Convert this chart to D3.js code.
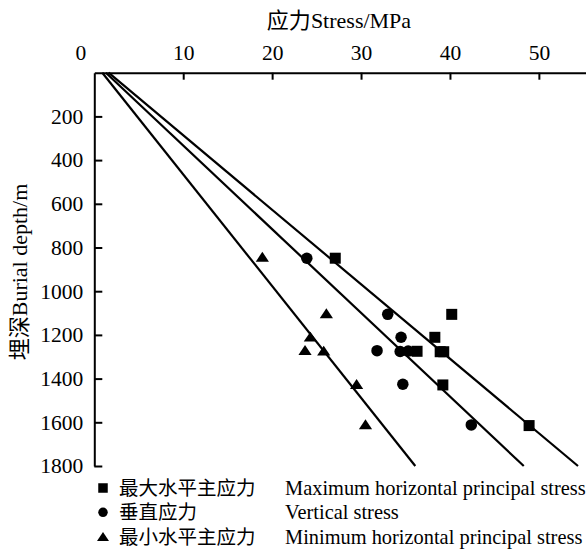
<!DOCTYPE html>
<html>
<head>
<meta charset="utf-8">
<title>Stress vs burial depth</title>
<script src="https://d3js.org/d3.v7.min.js"></script>
<style>
body{margin:0;background:#fff;}
</style>
</head>
<body>
<svg class="chart"></svg>
<script>
var width=586,height=550;
var serif='"Liberation Serif","Times New Roman",serif';
var cjk='"Noto Sans CJK SC",sans-serif';

// axis ticks
var stressTicks=[0,10,20,30,40,50];
var depthTicks=[200,400,600,800,1000,1200,1400,1600,1800];

// fitted lines (depth endpoints, stress at those depths)
var lineDepth=[0,1800];
var maxLine=[1.6,54.4];
var vertLine=[1.3,48.3];
var minLine=[0.9,36.1];

// measured points
var maxDepth=[849,1106,1211,1275,1277,1277,1429,1615];
var maxStress=[27.1,40.2,38.3,36.3,38.9,39.3,39.2,48.9];
var vertDepth=[849,1106,1211,1272,1276,1274,1426,1612];
var vertStress=[23.9,33.0,34.5,31.8,34.4,35.3,34.7,42.4];
var minDepth=[842,1101,1208,1269,1272,1425,1609];
var minStress=[18.9,26.1,24.3,23.7,25.8,29.5,30.5];

var legendCn=["最大水平主应力","垂直应力","最小水平主应力"];
var legendEn=["Maximum horizontal principal stress","Vertical stress","Minimum horizontal principal stress"];
var legendShape=["square","circle","triangle"];

var x=d3.scaleLinear().domain([0,55.3]).range([94.3,586]);
var y=d3.scaleLinear().domain([0,1800]).range([72.7,466]);

var chart=d3.select(".chart").attr("width",width).attr("height",height);

function zip(a,b){return a.map(function(d,i){return [d,b[i]];});}

// axes
var xAxis=chart.append("g").attr("transform","translate(0,"+y(0)+")")
	.call(d3.axisTop(x).tickValues(stressTicks).tickFormat(d3.format("d"))
		.tickSizeInner(-7).tickSizeOuter(0).tickPadding(13));
var yAxis=chart.append("g").attr("transform","translate("+x(0)+",0)")
	.call(d3.axisLeft(y).tickValues(depthTicks).tickFormat(d3.format("d"))
		.tickSizeInner(-8).tickSizeOuter(0).tickPadding(11));

[xAxis,yAxis].forEach(function(a){
	a.attr("font-family",null).attr("font-size",null);
	a.selectAll("text").style("font-family",serif).style("font-size","21.5px").attr("fill","#000");
});
xAxis.selectAll(".tick").filter(function(d){return d==0;}).select("line").remove();
xAxis.selectAll(".tick").filter(function(d){return d==0;}).select("text").attr("dx",-14);
chart.selectAll(".domain,.tick line").attr("stroke","#000").attr("stroke-width",2);

// mixed Chinese / Latin label
function label(g,cn,en,size){
	var t=g.append("text").style("font-size",size);
	t.append("tspan").style("font-family",cjk).text(cn);
	t.append("tspan").style("font-family",serif).text(en);
	return t;
}

label(chart,"应力","Stress/MPa","22px").attr("x",339).attr("y",28).attr("text-anchor","middle");
label(chart,"埋深","Burial depth/m","22px").attr("transform","translate(27,272) rotate(-90)").attr("text-anchor","middle");

// lines
var line=d3.line().x(function(d){return x(d[1]);}).y(function(d){return y(d[0]);});
[maxLine,vertLine,minLine].forEach(function(s){
	chart.append("path").datum(zip(lineDepth,s)).attr("d",line)
		.attr("fill","none").attr("stroke","#000").attr("stroke-width",2.2);
});

function drawShape(g,shape,cx,cy,s){
	if(shape=="square"){
		g.append("rect").attr("x",cx-s/2).attr("y",cy-s/2).attr("width",s).attr("height",s).attr("fill","#000");
	}else if(shape=="circle"){
		g.append("circle").attr("cx",cx).attr("cy",cy).attr("r",s/2).attr("fill","#000");
	}else{
		var h=s*0.9;
		g.append("path").attr("d","M"+cx+","+(cy-h/2)+"L"+(cx+s*0.6)+","+(cy+h/2)+"L"+(cx-s*0.6)+","+(cy+h/2)+"Z").attr("fill","#000");
	}
}

var pts=chart.append("g");
zip(maxDepth,maxStress).forEach(function(d){drawShape(pts,"square",x(d[1]),y(d[0]),11);});
zip(vertDepth,vertStress).forEach(function(d){drawShape(pts,"circle",x(d[1]),y(d[0]),11.5);});
zip(minDepth,minStress).forEach(function(d){drawShape(pts,"triangle",x(d[1]),y(d[0]),11);});

// legend
var leg=chart.append("g");
legendCn.forEach(function(t,i){
	var ly=488+i*24.3;
	drawShape(leg,legendShape[i],103,ly,i==2?10:9.5);
	leg.append("text").attr("x",119).attr("y",ly+7).style("font-family",cjk).style("font-size","19.5px").text(t);
	leg.append("text").attr("x",285).attr("y",ly+7).style("font-family",serif).style("font-size","20.4px").text(legendEn[i]);
});
</script>
</body>
</html>
